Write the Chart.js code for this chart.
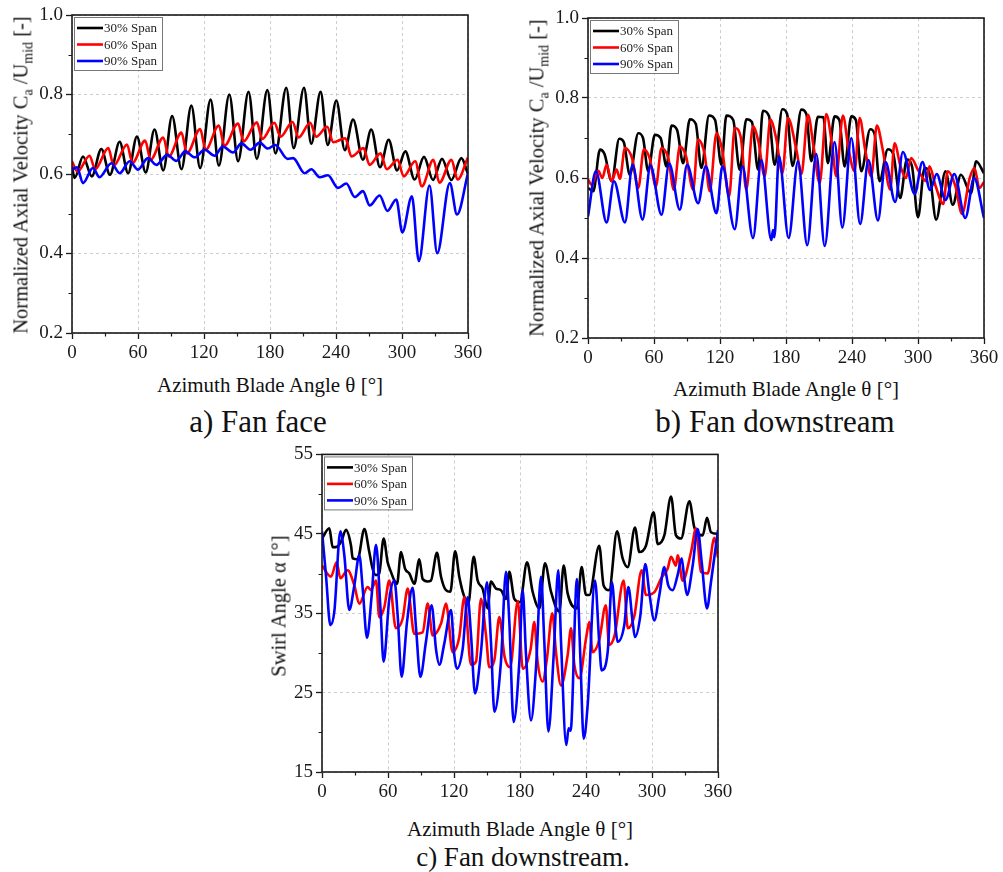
<!DOCTYPE html>
<html>
<head>
<meta charset="utf-8">
<script src="https://cdn.jsdelivr.net/npm/chart.js@4.4.0/dist/chart.umd.min.js"></script>
<style>
  body { margin: 0; background: #fff; width: 1003px; height: 872px; position: relative; overflow: hidden;
         font-family: "Liberation Serif", "Times New Roman", serif; color: #111; }
  canvas { position: absolute; }
  .lbl { position: absolute; white-space: nowrap; font-size: 21px; transform: translate(-50%, -50%); }
  .cap { position: absolute; white-space: nowrap; font-size: 31px; transform: translate(-50%, -50%); }
  .ylbl { position: absolute; white-space: nowrap; font-size: 20.5px; transform: translate(-50%, -50%) rotate(-90deg); }
  sub { font-size: 14px; }
</style>
</head>
<body>
<canvas id="face" width="500" height="370" style="left:0;top:0"></canvas>
<canvas id="down" width="503" height="371" style="left:500px;top:0"></canvas>
<canvas id="swirl" width="500" height="365" style="left:250px;top:440px"></canvas>

<div class="ylbl" style="left:23px;top:175px">Normalized Axial Velocity C<sub>a</sub> /U<sub>mid</sub> [-]</div>
<div class="ylbl" style="left:539px;top:178px">Normalized Axial Velocity C<sub>a</sub> /U<sub>mid</sub> [-]</div>
<div class="ylbl" style="left:279px;top:606px">Swirl Angle α [°]</div>

<div class="lbl" style="left:270px;top:385px">Azimuth Blade Angle θ [°]</div>
<div class="lbl" style="left:786px;top:389px">Azimuth Blade Angle θ [°]</div>
<div class="lbl" style="left:520px;top:829px">Azimuth Blade Angle θ [°]</div>

<div class="cap" style="left:258px;top:422px">a) Fan face</div>
<div class="cap" style="left:775px;top:422px">b) Fan downstream</div>
<div class="cap" style="left:523px;top:857px;font-size:27px">c) Fan downstream.</div>

<script>
// axes
const angleTicks = [0, 60, 120, 180, 240, 300, 360];
const angleMinor = [30, 90, 150, 210, 270, 330];
const velocityTicks = [0.2, 0.4, 0.6, 0.8, 1.0];
const velocityMinor = [0.3, 0.5, 0.7, 0.9];
const swirlTicks = [15, 25, 35, 45, 55];
const swirlMinor = [20, 30, 40, 50];

const spanLabels = ['30% Span', '60% Span', '90% Span'];
const spanColors = ['#000000', '#ff0000', '#0000ff'];

// a) fan face, [angle, Ca/Umid]
const faceSpan30 = [[0,0.618],[2.4,0.59],[10,0.644],[18,0.594],[26.7,0.663],[34.5,0.598],[43.3,0.681],[51,0.602],[59,0.694],[67,0.604],[75,0.712],[83,0.609],[91,0.746],[99.5,0.612],[108.5,0.772],[116.5,0.615],[126,0.787],[133.5,0.621],[143,0.8],[151,0.632],[160.5,0.807],[168,0.638],[177.6,0.811],[185,0.652],[194.8,0.817],[201.5,0.665],[210.9,0.817],[217.5,0.676],[226,0.807],[232.5,0.673],[240.3,0.785],[248,0.66],[255.5,0.737],[264.5,0.636],[272,0.712],[280,0.617],[287.9,0.686],[295.5,0.609],[303,0.657],[311.5,0.586],[320,0.643],[328.2,0.585],[336.4,0.638],[344.8,0.585],[354,0.64],[360,0.60]];
const faceSpan60 = [[0,0.632],[5,0.606],[16,0.646],[21,0.612],[33,0.665],[38,0.621],[50,0.674],[55,0.628],[66.5,0.684],[71.5,0.636],[83,0.692],[88,0.644],[99.5,0.704],[104.5,0.652],[116.5,0.713],[121.5,0.661],[133.5,0.722],[138.5,0.671],[151,0.727],[156,0.682],[168,0.73],[173,0.688],[184,0.729],[189.5,0.694],[200.5,0.731],[206,0.692],[216.5,0.729],[222,0.694],[232,0.719],[237.5,0.68],[248.5,0.69],[254,0.644],[265,0.665],[270.5,0.623],[280.5,0.652],[286,0.612],[296,0.636],[301.5,0.594],[312,0.632],[318,0.569],[328.5,0.636],[334,0.578],[345,0.636],[350.5,0.586],[360,0.642]];
const faceSpan90 = [[0,0.61],[4.5,0.617],[10,0.577],[19,0.615],[25,0.592],[35.8,0.627],[43.3,0.602],[52.4,0.632],[60,0.611],[69,0.64],[76.7,0.623],[86.7,0.648],[94.8,0.633],[103,0.657],[111.5,0.642],[120.6,0.661],[129.7,0.646],[137,0.669],[146.4,0.654],[154,0.677],[162.4,0.661],[170.6,0.679],[178,0.664],[184.8,0.673],[196,0.638],[201,0.64],[211.5,0.602],[217.6,0.612],[225.2,0.592],[232.7,0.597],[241.8,0.565],[249.4,0.576],[257,0.542],[264.5,0.557],[270.6,0.521],[279.7,0.546],[286.7,0.507],[294.8,0.536],[300.3,0.453],[309,0.544],[315.3,0.381],[325,0.571],[332,0.401],[343.5,0.577],[350,0.498],[360,0.602]];

// b) fan downstream, [angle, Ca/Umid]
const downSpan30 = [[0,0.575],[4.8,0.567],[10.9,0.671],[15,0.66],[21.5,0.592],[28.4,0.698],[32.5,0.69],[38,0.608],[45.7,0.712],[50,0.70],[54.7,0.617],[60.8,0.708],[66,0.70],[71.4,0.629],[75.9,0.731],[81,0.72],[86.5,0.637],[92.6,0.747],[98,0.735],[103.1,0.625],[110,0.756],[115.5,0.745],[121.3,0.633],[125.8,0.756],[132,0.745],[137.9,0.621],[144,0.747],[149,0.74],[154.6,0.621],[159,0.768],[164.5,0.755],[169.7,0.633],[176.7,0.772],[181,0.76],[186,0.63],[194,0.771],[198.5,0.76],[203,0.642],[209,0.753],[214,0.752],[218,0.637],[224.2,0.754],[228.5,0.745],[233.3,0.629],[239.4,0.754],[243.5,0.745],[248.4,0.617],[256.6,0.722],[260.5,0.71],[265,0.592],[272.6,0.672],[277.5,0.66],[283.8,0.55],[289.9,0.646],[294.5,0.63],[300,0.502],[306,0.625],[310.5,0.61],[316.5,0.496],[325,0.617],[331.6,0.533],[339,0.608],[348.2,0.562],[352.8,0.642],[360,0.612]];
const downSpan60 = [[0,0.596],[3.3,0.583],[9.3,0.618],[13,0.60],[16.9,0.633],[21.5,0.592],[26,0.621],[29,0.598],[33.6,0.675],[40,0.65],[45.7,0.575],[50.8,0.672],[56,0.65],[61.7,0.579],[66.8,0.675],[73,0.65],[78,0.571],[83.5,0.679],[89,0.655],[95.6,0.571],[100,0.696],[106,0.66],[110.7,0.567],[116.8,0.712],[122,0.67],[128.3,0.554],[133.4,0.725],[139,0.70],[143.9,0.571],[150,0.729],[155,0.69],[160.6,0.604],[165.8,0.746],[171,0.70],[176.7,0.612],[181.8,0.75],[189.4,0.671],[194,0.61],[200,0.758],[205,0.68],[210.6,0.587],[216.6,0.76],[222,0.68],[225.7,0.604],[231.7,0.756],[237,0.67],[242.3,0.617],[247,0.75],[252,0.67],[257.5,0.604],[262.6,0.731],[268,0.67],[274.7,0.571],[278.7,0.687],[284,0.63],[289,0.60],[293.8,0.65],[300,0.62],[307.4,0.592],[310.4,0.629],[316,0.58],[323,0.535],[327,0.617],[334,0.58],[340,0.51],[347,0.60],[351.3,0.625],[355.8,0.575],[360,0.59]];
const downSpan90 = [[0,0.504],[7.2,0.617],[16.9,0.489],[23.6,0.592],[33.6,0.489],[40.5,0.633],[49.6,0.496],[56.8,0.631],[66.8,0.508],[73.8,0.636],[83.5,0.521],[90.1,0.633],[100.1,0.537],[107,0.629],[116.8,0.512],[122.2,0.629],[133.4,0.472],[140.4,0.629],[150,0.45],[157.6,0.645],[166.7,0.445],[168.2,0.47],[169.4,0.452],[173.6,0.655],[182.4,0.45],[190.9,0.642],[199.3,0.432],[207.5,0.66],[215.2,0.43],[224.2,0.69],[231.2,0.476],[239.4,0.70],[247.4,0.485],[255,0.645],[263.6,0.494],[270.5,0.64],[279.2,0.54],[286.3,0.665],[297,0.56],[304,0.64],[311,0.57],[317,0.61],[325,0.545],[333,0.61],[343,0.50],[351,0.60],[360,0.50]];

// c) swirl angle downstream, [angle, alpha deg]
const swirlSpan30 = [[0,44.4],[6.7,45.7],[9.7,43.3],[14.2,43.4],[17.9,44.2],[21.8,45.5],[26.4,43.5],[27.9,41.9],[32.4,41.8],[38.5,45.6],[43,42.7],[46,40.6],[49,39.8],[52,40],[56,44.4],[59.7,41.4],[62.7,40.2],[65.8,39.1],[68.2,38.7],[71.8,42.7],[75.5,40.6],[79.4,40],[84,38.7],[88.5,41.8],[91.5,39.3],[96,39],[99,39.1],[104.5,42.6],[108.2,39.6],[112.7,37.9],[116.7,37.7],[121,42.8],[124.8,39.6],[128.8,37.3],[133,36.2],[137.9,42.1],[141.5,39.1],[146,38.1],[150.6,35.6],[153.6,39],[158.2,38.1],[162.7,37.9],[167.3,36.8],[170.3,40.2],[174.8,36.8],[180,36.4],[186.4,41.4],[191.5,37.7],[197.6,35.6],[202.7,41.3],[208.2,37.7],[215.8,35.2],[219.7,41],[223.3,37.5],[231.8,35.6],[236,40.8],[240,37.3],[243,37.3],[252,43.5],[256,38.5],[261,37.9],[268.2,45.3],[273.3,41.9],[277.9,40.8],[284.5,45.8],[288.5,42.7],[294.5,43.5],[301.5,47.7],[305.2,43.7],[311.2,44.8],[317.3,49.7],[321.8,44.8],[326.4,44.4],[334,49.1],[338.5,45.8],[346.1,44.8],[350,47],[353.6,45.2],[360,45]];
const swirlSpan60 = [[0,41],[8.2,39.6],[13.3,41.4],[16.7,39.4],[23.3,40.4],[29.4,38.5],[33.9,36.2],[41.5,38.3],[44.5,37.9],[49.1,39.1],[52.1,34.5],[56.7,35.8],[61.2,39.1],[67.2,33.1],[73.3,34.3],[77.9,38.1],[83.9,32.4],[91.5,32.6],[96.1,36.2],[100.6,32.2],[108.2,33.7],[112.7,36.2],[118.8,30.1],[124.8,32],[129.4,37],[135.5,28.5],[140,28.9],[144.5,36.8],[149.1,32.2],[152.1,28.2],[156.7,29.1],[161.2,34.5],[166,29.5],[171,28.2],[178,36.5],[182.5,28],[189.7,30.5],[193,33.9],[196,28.9],[200.6,26.4],[204.5,29.3],[209.4,35],[212.7,30.1],[217.3,25.9],[223.3,29.7],[226.4,33.1],[229.4,28.5],[234,26.8],[240,31.8],[243,33.9],[246,30.1],[252,31.6],[258,36],[261,31],[266,32.2],[274.2,39.1],[278,33.1],[284,34.7],[290.6,40.4],[294.5,37.3],[302.4,37.7],[308.3,39.4],[314.2,40.6],[317.3,42.1],[321.8,41],[323.3,42.3],[327.9,39.1],[335.5,42.7],[340,45.7],[344.5,40.2],[350.6,40],[356.7,44.5],[360,42]];
const swirlSpan90 = [[0,45.3],[3.6,39.8],[7.6,33.5],[11.2,35.2],[16.7,45.3],[20.3,42.3],[24.8,35.4],[29.4,38.5],[33.9,42.3],[37,38.1],[40.9,31.9],[45.2,37.3],[49.1,43.6],[53,36],[56,28.9],[61.2,36.8],[65.8,39.1],[68.8,34.7],[72.4,27],[77.3,33.9],[82.4,38.2],[85.5,33.1],[89.4,27],[94.5,31.4],[99.7,36],[103.6,30.5],[106.7,28.5],[111.2,31.2],[117.3,35.4],[120.3,29.7],[122.7,28],[127.9,30.5],[132.4,37],[135.5,32.2],[139.1,24.9],[144.5,30.1],[150,38.9],[153.6,31.4],[156.7,22.6],[162.7,28.9],[167.3,40.2],[170.3,33.9],[174.2,21.3],[179.4,28.9],[182.4,37.9],[185.5,29.7],[190,21.5],[194.5,28],[199.1,39.6],[202.1,31.4],[205.8,20.1],[210.6,29.7],[214.8,40.4],[217.3,31.4],[222.1,18.4],[224.2,20.5],[226,20.2],[231.8,39.3],[234.8,29.7],[237.9,19.2],[241.5,23.4],[248.2,39.1],[252,31.4],[254.2,27.8],[259.7,30.1],[263.6,38.9],[267.3,32.6],[268.8,31.4],[274.8,33.5],[278.5,38.3],[282.4,33.9],[284.5,32],[289.4,34.7],[293.9,41.2],[297.6,37.5],[302.1,34.1],[306.7,37.3],[311.2,40.8],[314.8,38.5],[318.8,37.9],[323.3,39.8],[327,41.9],[329.4,39.3],[331.8,37.3],[337,41],[341.5,45.6],[345.2,41.4],[350,35.6],[353.6,38.9],[360,45.5]];

// box around plot, minor ticks and the small legend in the top-left corner
const framePlugin = {
    id: 'frame',
    afterDraw(chart, args, opts) {
        const {ctx, chartArea: a} = chart
        const x = chart.scales.x, y = chart.scales.y
        ctx.save()
        ctx.strokeStyle = '#1a1a1a'
        ctx.lineWidth = 1.2
        ctx.beginPath()
        angleMinor.forEach(v => {
            const px = Math.round(x.getPixelForValue(v)) + 0.5
            ctx.moveTo(px, a.bottom); ctx.lineTo(px, a.bottom + 3.5)
        })
        opts.yMinor.forEach(v => {
            const py = Math.round(y.getPixelForValue(v)) + 0.5
            ctx.moveTo(a.left, py); ctx.lineTo(a.left - 3.5, py)
        })
        ctx.stroke()
        ctx.lineWidth = 1.6
        ctx.strokeRect(a.left, a.top, a.right - a.left, a.bottom - a.top)

        // legend
        const lx = a.left + 2, ly = a.top + 2
        ctx.fillStyle = '#fff'
        ctx.fillRect(lx, ly, 88, 53)
        ctx.strokeStyle = '#777'
        ctx.lineWidth = 1
        ctx.strokeRect(lx + 0.5, ly + 0.5, 88, 53)
        ctx.font = '13px "Liberation Serif"'
        ctx.textBaseline = 'middle'
        spanLabels.forEach((txt, i) => {
            const ry = ly + 11 + i * 16.5
            ctx.strokeStyle = spanColors[i]
            ctx.lineWidth = 2.6
            ctx.beginPath(); ctx.moveTo(lx + 3, ry); ctx.lineTo(lx + 29, ry); ctx.stroke()
            ctx.fillStyle = '#222'
            ctx.fillText(txt, lx + 30, ry + 1)
        })
        ctx.restore()
    }
}

function axisOpts(tickValues, fmt) {
    return {
        type: 'linear',
        min: tickValues[0],
        max: tickValues[tickValues.length - 1],
        afterBuildTicks: s => { s.ticks = tickValues.map(v => ({value: v})) },
        grid: { color: '#cdcdcd', lineWidth: 1, tickLength: 6, tickColor: '#1a1a1a', tickWidth: 1.3 },
        border: { display: false, dash: [3, 3] },
        ticks: { font: { family: 'Liberation Serif', size: 19 }, color: '#1a1a1a', padding: 3,
                 maxRotation: 0, autoSkip: false, callback: fmt }
    }
}

function drawPanel(id, box, series, yTicks, yMinor, yFmt) {
    const xAxis = axisOpts(angleTicks, v => String(v))
    xAxis.afterFit = s => { s.height = box.bottom }
    const yAxis = axisOpts(yTicks, yFmt)
    yAxis.afterFit = s => { s.width = box.left }

    return new Chart(document.getElementById(id), {
        type: 'line',
        data: {
            datasets: series.map((pts, i) => ({
                label: spanLabels[i],
                data: pts.map(p => ({x: p[0], y: p[1]})),
                borderColor: spanColors[i],
                borderWidth: 2.6,
                pointRadius: 0,
                cubicInterpolationMode: 'monotone',
                order: 2 - i
            }))
        },
        options: {
            responsive: false,
            animation: false,
            events: [],
            layout: { padding: { top: box.top, right: box.right, left: 0, bottom: 0 } },
            plugins: {
                legend: { display: false },
                tooltip: { enabled: false },
                frame: { yMinor: yMinor }
            },
            scales: { x: xAxis, y: yAxis }
        },
        plugins: [framePlugin]
    })
}

drawPanel('face', {left: 72, top: 15, right: 32, bottom: 37},
    [faceSpan30, faceSpan60, faceSpan90], velocityTicks, velocityMinor, v => v.toFixed(1))
drawPanel('down', {left: 88, top: 18, right: 19, bottom: 33},
    [downSpan30, downSpan60, downSpan90], velocityTicks, velocityMinor, v => v.toFixed(1))
drawPanel('swirl', {left: 72, top: 14, right: 32, bottom: 33},
    [swirlSpan30, swirlSpan60, swirlSpan90], swirlTicks, swirlMinor, v => String(v))
</script>
</body>
</html>
